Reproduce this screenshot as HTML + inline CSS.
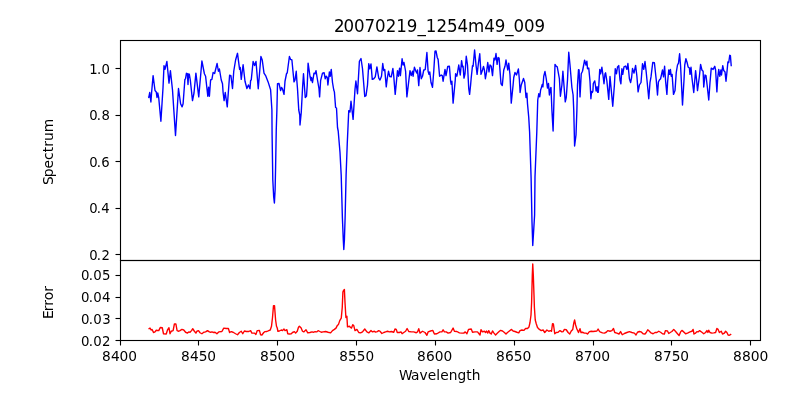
<!DOCTYPE html>
<html lang="en"><head><meta charset="utf-8"><title>20070219_1254m49_009</title>
<style>html,body{margin:0;padding:0;background:#fff}svg{display:block}text{font-family:"DejaVu Sans","Liberation Sans",sans-serif;fill:#000}</style></head><body>
<svg width="800" height="400" viewBox="0 0 800 400">
<rect width="800" height="400" fill="#fff"/>
<polyline fill="none" stroke="#0000ff" stroke-width="1.389" stroke-linejoin="round" stroke-linecap="butt" points="148.40,96.50 148.80,97.50 149.75,92.50 150.90,102.00 151.60,92.50 153.10,75.60 155.00,90.50 156.25,92.00 157.00,97.50 157.75,93.00 158.75,98.00 160.90,121.25 163.00,88.00 164.00,65.60 165.00,69.40 166.90,61.50 169.00,83.10 170.40,70.60 172.50,90.00 175.50,135.50 178.50,88.50 180.60,103.75 182.10,106.90 183.10,103.75 184.90,79.30 185.50,79.00 186.40,73.30 187.40,73.60 188.00,84.50 188.60,74.00 189.30,74.20 190.30,80.00 192.50,100.60 194.00,93.00 195.90,73.10 198.75,96.90 201.90,61.00 204.40,73.75 205.60,76.25 207.80,96.25 208.60,87.30 209.40,96.25 210.60,80.00 211.90,79.40 213.10,72.50 214.60,73.50 217.10,63.50 218.40,71.25 219.40,69.00 221.25,80.00 222.50,83.75 223.10,92.50 224.10,100.60 225.25,92.50 227.25,106.90 229.60,75.25 230.90,75.60 232.50,88.50 233.75,71.25 235.60,60.00 237.50,53.30 239.60,69.40 240.25,67.50 241.25,79.40 243.10,64.75 245.00,81.25 246.90,88.50 248.40,85.00 250.00,88.75 250.60,80.60 251.25,80.00 253.10,61.50 254.60,65.60 256.00,61.50 258.25,88.75 260.90,56.50 262.25,60.00 264.00,73.10 265.60,75.60 268.10,81.90 270.60,89.70 271.90,110.00 272.10,135.00 272.80,180.00 273.70,197.00 274.40,203.00 275.10,190.00 275.60,167.00 276.25,130.00 276.90,110.00 277.50,83.75 279.00,83.50 280.60,90.60 281.50,87.50 282.50,89.00 284.00,94.40 285.00,81.25 286.50,73.75 287.25,72.75 289.40,56.50 290.60,59.40 291.90,60.00 294.00,81.90 295.00,80.00 296.25,71.25 296.90,81.25 297.50,88.75 298.75,110.00 299.75,115.00 300.00,125.00 301.25,112.50 302.60,87.00 303.50,73.75 305.25,97.50 306.50,96.25 307.25,85.00 308.10,63.10 310.00,76.25 311.00,80.60 311.50,77.50 312.50,82.50 314.00,73.10 315.00,73.75 316.00,70.60 317.50,80.00 319.00,88.75 319.60,96.90 320.60,80.60 322.50,73.10 324.10,72.75 325.25,78.75 326.25,76.25 327.25,77.50 327.90,85.00 329.40,71.90 330.25,76.25 331.25,69.40 332.50,82.50 333.75,90.00 334.40,91.90 335.60,107.50 336.50,108.00 337.50,127.50 338.20,131.00 340.00,152.50 341.20,175.00 342.40,218.00 343.30,240.00 343.80,249.50 344.40,240.00 345.10,218.00 346.10,175.00 347.25,143.75 348.10,125.00 348.75,110.60 350.00,111.90 351.00,101.25 353.10,119.40 355.00,89.40 355.90,81.00 357.50,93.75 359.40,61.25 361.00,58.50 362.50,68.75 364.75,96.50 366.00,95.60 367.50,85.00 368.75,63.75 369.75,68.75 371.00,64.00 372.25,79.40 373.75,78.75 375.25,76.90 376.90,66.90 378.75,78.10 380.00,80.00 381.50,76.25 382.75,63.50 383.75,70.50 384.75,69.40 386.25,86.90 387.25,78.50 388.50,71.25 389.75,76.50 391.25,76.90 392.90,68.50 393.75,76.25 395.20,94.40 397.50,70.60 398.50,76.25 399.60,68.10 400.40,75.60 402.10,58.75 403.10,65.00 404.00,62.50 405.60,71.25 406.90,96.90 410.00,70.60 411.25,75.60 412.50,71.25 413.10,76.25 414.40,67.25 415.60,70.60 416.90,73.10 417.50,70.00 418.75,85.60 420.00,67.50 421.25,78.75 422.50,76.25 423.75,70.00 424.40,70.00 425.25,69.40 426.90,52.50 428.10,71.25 429.00,74.40 429.75,71.90 431.00,82.50 432.50,87.25 433.75,71.25 435.00,51.25 436.00,51.00 437.25,57.50 438.10,59.40 439.60,76.25 441.25,75.00 442.25,75.60 443.10,81.25 445.00,69.40 446.00,75.60 447.75,66.50 449.40,66.25 450.60,81.25 451.25,84.40 451.90,81.25 453.10,103.10 455.25,80.00 455.60,73.75 456.90,76.25 458.75,65.00 460.25,75.00 461.60,60.60 462.50,66.90 463.10,66.25 464.00,78.10 465.00,73.75 466.25,56.25 467.50,65.00 468.75,88.75 469.60,94.40 470.60,85.00 471.25,77.50 472.50,65.60 473.10,66.25 474.60,50.00 476.00,65.00 477.10,74.40 478.50,62.50 479.75,53.75 481.00,74.40 482.50,70.00 483.50,66.50 484.40,70.00 485.40,78.75 486.50,72.50 487.75,62.50 489.00,71.90 490.00,65.00 491.25,66.25 492.50,75.60 494.00,58.10 495.00,60.00 496.00,53.50 497.10,64.40 498.10,57.50 499.10,58.10 501.00,83.75 502.30,85.50 503.75,70.00 505.00,66.25 506.00,60.00 507.75,70.00 508.75,63.10 510.00,75.00 511.25,103.10 513.10,85.00 513.75,77.50 515.00,72.50 516.50,75.00 518.40,69.00 519.40,80.00 520.10,92.50 521.25,85.00 523.50,78.50 524.75,82.50 526.00,97.50 526.90,93.10 527.50,103.75 528.75,117.50 529.60,132.00 531.10,178.00 532.00,222.00 532.75,245.50 533.40,235.00 534.60,215.00 535.00,177.00 536.80,132.00 537.75,100.00 538.75,93.75 539.75,96.90 540.60,90.00 541.25,88.10 542.25,84.40 542.90,86.90 543.75,76.25 545.00,71.50 546.25,78.75 547.50,88.10 548.50,83.50 549.40,95.00 550.60,88.10 551.00,87.50 551.90,110.00 553.10,131.00 554.40,85.00 555.00,64.40 556.25,66.25 557.25,66.90 559.40,78.75 560.40,96.25 561.90,85.00 562.90,71.25 563.75,82.50 565.25,101.90 566.25,97.50 567.50,80.00 568.75,52.25 570.00,65.00 571.90,87.50 573.10,95.00 573.75,110.00 574.60,146.00 576.00,135.00 576.90,110.00 577.50,85.00 578.50,69.75 579.10,70.00 580.00,96.90 581.25,73.75 582.50,71.25 584.60,60.25 586.00,65.00 586.90,61.25 587.50,68.75 588.75,68.10 590.00,81.25 590.90,98.75 591.60,91.50 592.30,92.50 592.90,91.00 593.30,83.50 594.75,80.90 595.50,86.00 596.10,91.00 596.60,90.50 597.10,86.80 597.70,92.30 598.30,92.30 598.90,84.00 599.75,69.40 600.60,73.75 601.90,67.25 603.10,76.25 604.00,83.75 605.00,73.75 605.60,72.75 606.90,81.25 608.75,99.40 610.00,76.50 611.25,90.00 612.75,106.25 614.40,85.00 615.25,68.75 616.50,73.75 617.50,67.00 618.75,65.60 620.00,80.00 620.90,83.75 621.90,68.75 622.75,74.40 624.00,66.90 625.60,66.00 626.90,69.40 627.90,63.50 629.40,78.75 630.60,82.50 631.60,77.50 632.50,68.50 634.00,73.10 635.60,65.40 636.90,76.25 638.10,91.90 639.40,85.00 641.00,82.50 642.50,63.75 643.75,69.40 645.00,61.50 646.25,72.50 648.75,98.75 650.00,82.50 651.00,76.90 652.75,62.50 654.40,62.75 656.25,80.00 657.50,95.00 658.40,82.00 659.40,80.00 660.60,78.75 662.50,70.00 663.50,76.90 664.60,66.25 665.60,81.25 666.90,94.40 667.60,82.00 668.75,70.00 669.60,74.40 670.40,69.40 671.25,76.25 672.10,74.40 673.50,94.40 675.00,90.60 676.25,72.50 677.50,65.00 678.50,63.10 679.60,53.75 680.60,66.25 682.50,105.00 684.00,80.00 684.75,65.00 685.90,58.75 687.10,62.50 688.10,66.90 689.40,68.10 690.00,74.40 691.00,67.25 691.90,77.50 693.75,92.50 695.60,70.60 696.60,80.00 697.50,90.60 699.40,76.25 700.60,64.40 701.90,70.00 703.10,71.25 703.75,87.00 705.00,75.00 706.00,75.60 707.25,86.25 708.75,100.00 710.00,82.50 711.25,68.10 713.10,69.40 714.75,66.25 715.60,70.00 716.90,91.90 717.75,77.50 718.75,69.40 719.75,76.25 720.90,70.00 721.50,75.00 722.75,65.60 723.75,70.60 725.00,71.90 726.00,81.25 726.90,72.50 727.90,61.90 728.75,62.50 729.75,55.25 730.40,55.60 731.25,66.25"/>
<polyline fill="none" stroke="#ff0000" stroke-width="1.389" stroke-linejoin="round" stroke-linecap="butt" points="148.50,329.00 150.00,328.10 151.25,330.00 152.10,329.50 153.50,332.50 155.00,331.90 156.25,330.25 158.75,330.60 160.25,327.50 162.25,327.75 163.50,333.75 166.25,334.00 167.50,330.00 169.00,327.75 170.00,333.75 171.25,331.25 173.10,330.60 174.40,324.00 175.90,324.00 177.10,330.60 178.75,331.25 180.00,330.60 181.90,329.40 183.75,330.00 185.60,332.25 187.50,333.10 188.75,331.90 190.00,332.25 191.50,330.60 192.75,328.75 194.40,331.25 195.90,333.10 196.90,331.25 198.50,330.60 200.00,332.75 201.90,333.75 203.75,332.25 205.60,331.90 207.50,330.60 209.40,331.90 210.60,332.25 211.90,331.90 213.75,332.50 215.00,332.25 216.90,333.75 218.75,331.90 221.90,331.50 223.75,328.10 226.25,328.50 228.40,328.50 229.60,332.50 231.25,331.60 233.10,332.25 235.60,333.75 237.50,334.75 239.40,332.50 241.25,331.25 242.75,333.75 244.40,331.00 246.25,331.50 248.75,331.50 250.60,330.60 251.90,333.10 254.40,333.10 255.90,334.40 257.25,330.60 259.40,330.40 260.60,334.75 261.90,335.00 263.75,332.50 265.00,331.60 266.90,331.50 268.75,330.60 270.25,330.00 271.50,326.25 272.50,317.50 273.50,305.60 274.50,305.60 275.60,320.00 276.50,326.25 277.25,328.00 277.90,331.25 279.40,331.00 281.25,330.00 282.50,330.60 284.00,329.00 285.00,330.60 286.90,329.75 287.75,333.75 289.40,334.00 291.25,333.75 292.50,332.50 294.40,331.60 295.60,333.10 297.25,331.25 298.50,327.25 299.40,326.25 301.00,327.75 302.50,331.25 303.75,331.90 306.00,329.75 307.75,332.90 310.00,332.50 311.90,331.90 313.75,332.25 315.00,331.60 316.90,331.90 318.10,330.60 319.40,331.25 321.25,332.25 323.10,331.90 325.60,331.50 328.10,332.25 330.60,332.90 332.50,330.60 334.40,329.40 336.00,328.10 337.25,325.60 338.50,324.40 339.75,320.60 341.25,318.10 342.25,307.50 342.90,292.00 343.50,290.50 344.40,289.60 345.00,302.50 345.90,317.50 346.90,316.25 347.50,326.90 349.40,326.25 350.60,327.50 351.50,328.10 352.75,324.75 353.75,325.60 355.00,330.60 356.90,329.40 358.75,332.50 360.60,332.90 362.50,331.90 364.75,329.00 366.90,331.90 368.75,332.90 371.00,330.60 372.50,331.90 374.40,331.25 375.60,332.10 377.25,331.60 378.75,330.60 380.00,331.25 381.90,333.50 383.75,332.50 385.60,331.90 387.50,331.25 389.40,331.90 391.25,331.50 393.75,332.25 395.00,329.00 396.25,329.40 397.25,332.50 399.40,332.50 401.00,331.90 402.10,333.75 403.75,332.50 405.60,331.25 407.10,328.50 408.75,331.50 411.25,331.90 413.75,331.90 416.25,332.75 417.50,331.90 418.75,328.75 420.00,333.10 422.50,331.25 425.00,332.50 426.90,335.25 428.10,331.90 430.60,331.00 432.75,330.40 434.40,334.00 436.90,333.75 440.00,331.90 441.90,331.90 443.10,329.75 444.40,331.90 446.25,331.90 448.10,333.10 450.60,332.50 453.10,328.10 454.40,331.25 456.90,331.50 459.40,332.90 461.90,333.10 463.75,333.10 465.25,331.90 466.90,333.75 468.50,329.40 471.25,329.00 472.50,332.25 475.00,331.90 477.50,331.90 479.00,333.75 480.00,335.00 481.00,329.75 482.50,331.90 484.40,331.25 485.60,332.50 486.50,331.00 487.75,333.10 488.75,330.60 490.00,333.10 491.25,334.00 492.50,331.00 494.00,333.10 495.60,335.00 497.50,333.10 499.40,331.25 500.60,330.40 502.50,331.00 504.40,332.50 506.00,334.00 507.50,332.50 509.40,331.00 511.50,329.40 513.10,331.00 515.00,331.50 516.90,332.25 518.75,332.90 520.00,330.60 521.90,330.00 523.75,330.40 525.60,328.50 527.50,328.50 529.00,326.90 530.00,322.50 531.00,315.00 531.60,302.50 532.30,275.00 532.75,264.00 533.30,275.00 534.00,295.00 534.40,307.50 535.25,320.00 536.25,323.75 537.50,327.50 539.40,329.40 541.25,330.60 543.10,330.00 544.75,332.50 546.90,330.00 548.75,331.25 550.60,330.60 551.50,331.25 552.50,323.75 553.40,324.00 554.75,333.75 556.25,332.50 558.10,332.25 560.00,330.60 561.90,331.90 563.10,331.60 564.40,329.40 566.25,329.75 568.10,332.50 569.75,334.00 571.25,331.00 572.75,329.40 573.75,323.10 574.60,320.00 575.60,325.00 576.90,329.00 578.50,332.50 580.00,328.75 581.00,332.50 582.50,332.25 584.40,333.10 586.00,333.10 587.50,334.00 589.40,331.60 591.25,331.25 593.10,331.50 595.00,331.25 596.90,331.00 598.10,329.00 599.40,331.25 600.00,331.90 602.50,332.90 604.40,333.10 606.25,332.25 607.75,330.60 610.00,331.25 611.90,330.60 613.50,328.50 614.75,332.50 616.90,333.10 619.00,334.00 620.60,331.60 622.25,334.75 624.40,333.50 626.90,332.50 629.40,331.60 631.90,332.50 634.40,333.10 636.00,335.00 637.50,332.25 639.40,331.50 641.25,331.90 643.10,333.75 645.00,334.00 646.25,332.50 647.75,329.75 649.40,331.25 651.00,332.90 653.10,333.75 655.00,332.50 656.90,332.50 658.75,331.25 660.60,332.25 662.50,333.75 664.40,334.00 665.40,330.60 667.50,331.00 668.75,333.50 670.60,332.25 671.90,331.50 673.75,329.40 675.60,331.50 677.50,333.75 679.10,335.60 680.60,331.90 681.90,330.40 683.75,331.90 685.60,333.75 687.50,333.10 690.00,331.90 691.90,331.25 693.10,329.40 694.00,334.00 695.60,333.10 696.90,331.60 698.10,331.90 699.60,330.60 701.90,332.25 703.75,333.75 705.60,332.50 706.90,330.60 707.90,332.50 708.75,330.25 710.00,332.50 711.90,333.10 713.75,332.90 715.60,332.50 716.90,328.50 718.10,329.40 719.40,332.50 721.25,331.25 722.50,334.00 724.40,333.10 725.60,331.25 726.90,332.50 728.10,335.00 729.40,335.25 731.25,334.10"/>
<g stroke="#000" stroke-width="1.111">
<line x1="120.5" y1="340.5" x2="120.5" y2="345.5"/>
<line x1="198.5" y1="340.5" x2="198.5" y2="345.5"/>
<line x1="277.5" y1="340.5" x2="277.5" y2="345.5"/>
<line x1="356.5" y1="340.5" x2="356.5" y2="345.5"/>
<line x1="435.5" y1="340.5" x2="435.5" y2="345.5"/>
<line x1="514.5" y1="340.5" x2="514.5" y2="345.5"/>
<line x1="593.5" y1="340.5" x2="593.5" y2="345.5"/>
<line x1="671.5" y1="340.5" x2="671.5" y2="345.5"/>
<line x1="750.5" y1="340.5" x2="750.5" y2="345.5"/>
<line x1="115.5" y1="68.5" x2="120.5" y2="68.5"/>
<line x1="115.5" y1="115.5" x2="120.5" y2="115.5"/>
<line x1="115.5" y1="161.5" x2="120.5" y2="161.5"/>
<line x1="115.5" y1="208.5" x2="120.5" y2="208.5"/>
<line x1="115.5" y1="254.5" x2="120.5" y2="254.5"/>
<line x1="115.5" y1="275.5" x2="120.5" y2="275.5"/>
<line x1="115.5" y1="297.5" x2="120.5" y2="297.5"/>
<line x1="115.5" y1="318.5" x2="120.5" y2="318.5"/>
<line x1="115.5" y1="340.5" x2="120.5" y2="340.5"/>
</g>
<g fill="none" stroke="#000" stroke-width="1.111">
<rect x="120.5" y="40.5" width="640" height="220"/>
<rect x="120.5" y="260.5" width="640" height="80"/>
</g>
<text transform="translate(119.62,360.8) scale(0.99,1.02)" x="-17.906 -8.844 -0.016 8.812" y="0" font-size="13.889px">8400</text>
<text transform="translate(198.7,360.8) scale(0.99,1.04)" x="-17.906 -8.844 -0.016 8.562" y="0" font-size="13.889px">8450</text>
<text transform="translate(277.53,360.8) scale(1,1.02)" x="-17.656 -8.594 -0.016 8.812" y="0" font-size="13.889px">8500</text>
<text transform="translate(356.61,360.8) scale(0.98,1.02)" x="-17.656 -8.844 0.109 9.062" y="0" font-size="13.889px">8550</text>
<text transform="translate(434.69,360.8) scale(0.99,1.03)" x="-17.906 -8.844 -0.016 8.812" y="0" font-size="13.889px">8600</text>
<text transform="translate(513.77,360.8) scale(1,1.01)" x="-17.656 -8.844 -0.016 8.812" y="0" font-size="13.889px">8650</text>
<text transform="translate(592.6,360.8) scale(1,1.02)" x="-17.656 -8.844 -0.016 8.562" y="0" font-size="13.889px">8700</text>
<text transform="translate(671.68,360.8) scale(0.99,1.04)" x="-17.906 -8.844 -0.016 8.562" y="0" font-size="13.889px">8750</text>
<text transform="translate(750.76,360.8) scale(1,0.98)" x="-17.656 -8.844 -0.016 8.812" y="0" font-size="13.889px">8800</text>
<text transform="translate(99.55,73.8) scale(0.95,1.04)" x="-10.914 -2.727 2.195" y="0" font-size="13.889px">1.0</text>
<text transform="translate(99.55,119.8) scale(0.95,1.04)" x="-10.914 -2.977 2.195" y="0" font-size="13.889px">0.8</text>
<text transform="translate(99.55,166.8) scale(0.95,1.04)" x="-10.914 -2.977 1.695" y="0" font-size="13.889px">0.6</text>
<text transform="translate(99.55,212.8) scale(0.95,1.04)" x="-10.914 -2.977 1.695" y="0" font-size="13.889px">0.4</text>
<text transform="translate(99.55,259.8) scale(0.95,1.04)" x="-10.914 -2.977 2.195" y="0" font-size="13.889px">0.2</text>
<text transform="translate(95.75,279.8) scale(0.96,1.04)" x="-15.453 -7.391 -2.719 6.609" y="0" font-size="13.889px">0.05</text>
<text transform="translate(95.75,301.8) scale(0.96,1.04)" x="-15.453 -7.391 -2.719 6.609" y="0" font-size="13.889px">0.04</text>
<text transform="translate(95.75,323.8) scale(0.96,1.03)" x="-15.453 -7.391 -2.719 6.734" y="0" font-size="13.889px">0.03</text>
<text transform="translate(95.75,345.8) scale(0.96,1.04)" x="-15.453 -7.391 -2.719 6.609" y="0" font-size="13.889px">0.02</text>
<text transform="translate(439.5,379.8) scale(0.99,0.96)" x="-41.031 -28.828 -20.328 -12 -3.328 0.766 9.312 18.109 26.906 32.469" y="0" font-size="13.889px">Wavelength</text>
<text transform="translate(52.525,152.5) rotate(-90) scale(1,1.02)" x="-32.617 -24.82 -16.008 -7.477 0.148 5.727 11.43 20.211" y="0" font-size="13.889px">Spectrum</text>
<text transform="translate(52.525,303) rotate(-90) scale(1.01,1.01)" x="-15.914 -8.148 -2.695 2.711 11.195" y="0" font-size="13.889px">Error</text>
<text transform="translate(439.25,31.7) scale(1,1.08)" x="-105.273 -95.805 -85.336 -74.742 -64.148 -53.539 -42.945 -32.602 -21.758 -13.43 -2.836 7.773 18.367 28.711 44.945 55.414 65.883 74.211 84.68 95.148" y="0" font-size="16.667px">20070219_1254m49_009</text>
</svg></body></html>
